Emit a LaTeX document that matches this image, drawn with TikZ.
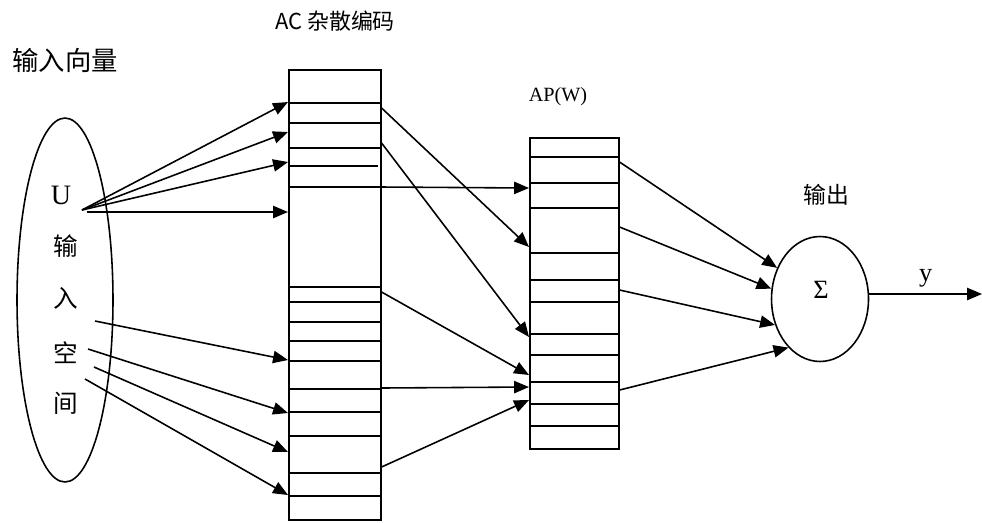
\documentclass[tikz,border=0pt]{standalone}
\usepackage{fontspec}
\setmainfont{Liberation Serif}
\newfontfamily\cjk{Noto Sans CJK SC}
\usepackage{tikz}
\usetikzlibrary{arrows.meta,shapes.geometric}

\begin{document}
\begin{tikzpicture}[x=0.02cm,y=-0.02cm,>={Triangle[length=8.5pt,width=7pt]},
    line width=0.9pt,
    zh/.style={font=\cjk\fontsize{14}{16}\selectfont},
    cellbox/.style={draw,rectangle,inner sep=0pt,anchor=north west}]
  \useasboundingbox (0,0) rectangle (982,522);
  % input space
  \node[draw,ellipse,inner sep=0pt,minimum width=1.92cm,minimum height=7.28cm] (in) at (65,300) {};
  \node[zh,font=\cjk\fontsize{15}{17}\selectfont] (invec) at (65,60) {输入向量};
  \node[font=\fontsize{16}{18}\selectfont] (u) at (61,195) {U};
  \node[zh] (c1) at (66,246) {输};
  \node[zh] (c2) at (66,298) {入};
  \node[zh] (c3) at (66,353) {空};
  \node[zh] (c4) at (66,403) {间};
  % AC cells
  \node[cellbox,minimum width=1.84cm,minimum height=9cm] (ac) at (288,69) {};
  \node[font=\cjk\fontsize{12.5}{15}\selectfont] (aclabel) at (335,21) {AC 杂散编码};
  \foreach \y in {103,123,148,187,287,302,322,341,361,389,412,436,473,496}
    \draw (ac.west |- 0,\y) -- (ac.east |- 0,\y);
  \draw (290,166) -- (378,166);
  % AP(W) cells
  \node[cellbox,minimum width=1.78cm,minimum height=6.22cm] (ap) at (529,137) {};
  \node[font=\fontsize{11.5}{13}\selectfont] (aplabel) at (558,97) {AP(W)};
  \foreach \y in {157,183,208,253,280,302,334,355,382,404,426}
    \draw (ap.west |- 0,\y) -- (ap.east |- 0,\y);
  % output
  \node[draw,ellipse,inner sep=0pt,minimum width=1.94cm,minimum height=2.5cm] (sum) at (820,299) {};
  \node[font=\fontsize{15}{17}\selectfont] (sigma) at (821,290) {Σ};
  \node[font=\cjk\fontsize{13}{15}\selectfont] (outlabel) at (826,195) {输出};
  \coordinate (yend) at (982,294);
  \draw[->] (sum.east |- yend) -- node[above,font=\fontsize{15}{17}\selectfont]{y} (yend);
  % input -> AC
  \coordinate (u0) at (82,210);
  \coordinate (u1) at (87,212);
  \coordinate (s1) at (95,321);
  \coordinate (s2) at (88,349);
  \coordinate (s3) at (94,367);
  \coordinate (s4) at (85,379);
  \foreach \y in {102,132,162}
    \draw[->] (u0) -- (ac.west |- 0,\y);
  \draw[->] (u1) -- (ac.west |- 0,212);
  \draw[->] (s1) -- (ac.west |- 0,360);
  \draw[->] (s2) -- (ac.west |- 0,413);
  \draw[->] (s3) -- (ac.west |- 0,452);
  \draw[->] (s4) -- (ac.west |- 0,495);
  % AC -> AP(W)
  \foreach \a/\b in {108/247,143/337,187/188,292/375,388/387,467/400}
    \draw[->] (ac.east |- 0,\a) -- (ap.west |- 0,\b);
  % AP(W) -> sum
  \foreach \a/\b in {162/144,227/168,290/210,390/237}
    \draw[->] (ap.east |- 0,\a) -- (sum.\b);
\end{tikzpicture}
\end{document}
